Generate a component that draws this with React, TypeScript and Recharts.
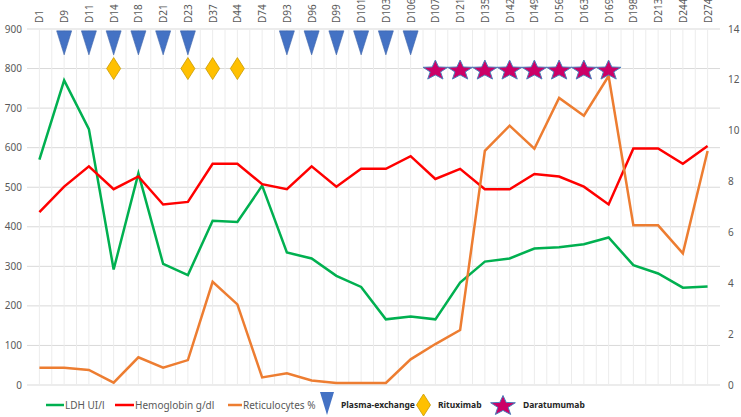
import { CartesianGrid, ComposedChart, Line, Scatter, XAxis, YAxis } from "recharts"

const categories = [
  "D1", "D9", "D11", "D14", "D18", "D21", "D23", "D37", "D44", "D74", "D93", "D96", "D99", "D101",
  "D103", "D106", "D107", "D121", "D135", "D142", "D149", "D156", "D163", "D169", "D198", "D213", "D244", "D274",
]

// LDH UI/l (left axis)
const ldh = [570, 770, 647, 292, 535, 306, 278, 415, 412, 504, 335, 320, 276, 248, 166, 173, 166, 259, 312, 320, 345, 348, 356, 373, 303, 282, 246, 249]
// Hemoglobin g/dl (right axis)
const hemoglobin = [6.8, 7.8, 8.6, 7.7, 8.2, 7.1, 7.2, 8.7, 8.7, 7.9, 7.7, 8.6, 7.8, 8.5, 8.5, 9.0, 8.1, 8.5, 7.7, 7.7, 8.3, 8.2, 7.8, 7.1, 9.3, 9.3, 8.7, 9.4]
// Reticulocytes % (right axis)
const reticulocytes = [0.68, 0.68, 0.59, 0.09, 1.09, 0.68, 0.98, 4.06, 3.17, 0.3, 0.46, 0.18, 0.08, 0.08, 0.08, 1.01, 1.61, 2.16, 9.21, 10.2, 9.29, 11.29, 10.59, 12.15, 6.28, 6.28, 5.18, 9.2]

const plasmaDays = ["D9", "D11", "D14", "D18", "D21", "D23", "D93", "D96", "D99", "D101", "D103", "D106"]
const rituximabDays = ["D14", "D23", "D37", "D44"]
const daratumumabDays = ["D107", "D121", "D135", "D142", "D149", "D156", "D163", "D169"]
const markerLevels = { plasma: 870, rituximab: 800, daratumumab: 800 }

const leftTicks = [0, 100, 200, 300, 400, 500, 600, 700, 800, 900]
const rightTicks = [0, 2, 4, 6, 8, 10, 12, 14]

const data = categories.map((day, i) => ({
  day,
  ldh: ldh[i],
  hb: hemoglobin[i],
  retic: reticulocytes[i],
  plasma: plasmaDays.includes(day) ? markerLevels.plasma : null,
  rituximab: rituximabDays.includes(day) ? markerLevels.rituximab : null,
  daratumumab: daratumumabDays.includes(day) ? markerLevels.daratumumab : null,
}))

const FONT = "'Noto Sans', sans-serif"
const TICK = "#595959"

function trianglePath(cx: number, cy: number) {
  return `M${cx - 7.5},${cy - 10} L${cx + 7.5},${cy - 10} L${cx},${cy + 14} Z`
}
function diamondPath(cx: number, cy: number) {
  return `M${cx},${cy - 11} L${cx + 7},${cy} L${cx},${cy + 11} L${cx - 7},${cy} Z`
}
function starPath(cx: number, cy: number, rx = 13, ry = 10.5) {
  const pts: string[] = []
  for (let k = 0; k < 10; k++) {
    const a = -Math.PI / 2 + (k * Math.PI) / 5
    const r = k % 2 === 0 ? 1 : 0.42
    pts.push(`${cx + Math.cos(a) * rx * r},${cy + Math.sin(a) * ry * r}`)
  }
  return `M${pts.join(" L")} Z`
}

const Triangle = (p: any) =>
  p.payload?.plasma == null || p.cy == null ? <g /> : <path d={trianglePath(p.cx, p.cy)} fill="#4472C4" stroke="#3A62A8" strokeWidth={0.6} />
const Diamond = (p: any) =>
  p.payload?.rituximab == null || p.cy == null ? <g /> : <path d={diamondPath(p.cx, p.cy)} fill="#FFC000" stroke="#C99A00" strokeWidth={0.8} />
const Star = (p: any) =>
  p.payload?.daratumumab == null || p.cy == null ? <g /> : <path d={starPath(p.cx, p.cy + 2)} fill="#CC0066" stroke="#4A7EBB" strokeWidth={1} />

function TopTick({ x, y, payload }: any) {
  return (
    <text x={x} y={y} transform={`rotate(-90 ${x} ${y})`} textAnchor="start" dominantBaseline="central" fontSize={10} fontFamily={FONT} fill={TICK}>
      {payload.value}
    </text>
  )
}

function LegendBar() {
  const t = { fontFamily: FONT, fontSize: 10, fill: TICK }
  const b = { fontFamily: FONT, fontSize: 8.5, fontWeight: 700, fill: "#262626" }
  return (
    <svg width={741} height={30} style={{ position: "absolute", left: 0, top: 390 }}>
      <line x1={46} x2={64} y1={15} y2={15} stroke="#00B050" strokeWidth={2.5} />
      <text x={65} y={19} {...t}>LDH UI/l</text>
      <line x1={115} x2={134} y1={15} y2={15} stroke="#FF0000" strokeWidth={2.5} />
      <text x={135} y={19} {...t}>Hemoglobin g/dl</text>
      <line x1={228} x2={242} y1={15} y2={15} stroke="#ED7D31" strokeWidth={2.5} />
      <text x={243} y={19} {...t}>Reticulocytes %</text>
      <path d="M320,2 L334,2 L327,25 Z" fill="#4472C4" />
      <text x={341} y={18} {...b}>Plasma-exchange</text>
      <path d={diamondPath(423.5, 15)} fill="#FFC000" stroke="#C99A00" strokeWidth={0.8} />
      <text x={438} y={18} {...b}>Rituximab</text>
      <path d={starPath(503, 16)} fill="#CC0066" stroke="#4A7EBB" strokeWidth={1} />
      <text x={523} y={18} {...b}>Daratumumab</text>
    </svg>
  )
}

export default function App() {
  return (
    <div style={{ position: "absolute", left: 0, top: 0, width: 741, height: 417, background: "#fff" }}>
      <ComposedChart width={741} height={417} data={data} margin={{ top: 0, right: 0, left: 0, bottom: 32 }}>
        <CartesianGrid yAxisId="left" vertical={false} stroke="#d9d9d9" strokeWidth={1} />
        <CartesianGrid
          yAxisId="left"
          horizontal={false}
          stroke="#ececec"
          strokeWidth={1}
          verticalCoordinatesGenerator={({ offset }: any) => {
            const band = offset.width / categories.length
            const xs: number[] = []
            for (let i = 1; i < categories.length * 2; i++) xs.push(offset.left + (i * band) / 2)
            return xs
          }}
        />
        <XAxis
          dataKey="day"
          orientation="top"
          height={29}
          interval={0}
          padding={{ left: 12.4, right: 12.4 }}
          tickLine={false}
          axisLine={false}
          tickSize={0}
          tickMargin={6}
          tick={<TopTick />}
        />
        <YAxis
          yAxisId="left"
          domain={[0, 900]}
          ticks={leftTicks}
          width={27}
          axisLine={false}
          tickLine={false}
          tickSize={0}
          tickMargin={5}
          tick={{ fontSize: 10, fontFamily: FONT, fill: TICK }}
        />
        <YAxis
          yAxisId="right"
          orientation="right"
          domain={[0, 14]}
          ticks={rightTicks}
          width={21}
          axisLine={false}
          tickLine={false}
          tickSize={0}
          tickMargin={8}
          tick={{ fontSize: 10, fontFamily: FONT, fill: TICK }}
        />
        <Line yAxisId="left" dataKey="ldh" stroke="#00B050" strokeWidth={2.5} dot={false} isAnimationActive={false} />
        <Line yAxisId="right" dataKey="hb" stroke="#FF0000" strokeWidth={2.5} dot={false} isAnimationActive={false} />
        <Line yAxisId="right" dataKey="retic" stroke="#ED7D31" strokeWidth={2.5} dot={false} isAnimationActive={false} />
        <Scatter yAxisId="left" dataKey="plasma" shape={Triangle} isAnimationActive={false} />
        <Scatter yAxisId="left" dataKey="rituximab" shape={Diamond} isAnimationActive={false} />
        <Scatter yAxisId="left" dataKey="daratumumab" shape={Star} isAnimationActive={false} />
      </ComposedChart>
      <LegendBar />
    </div>
  )
}
